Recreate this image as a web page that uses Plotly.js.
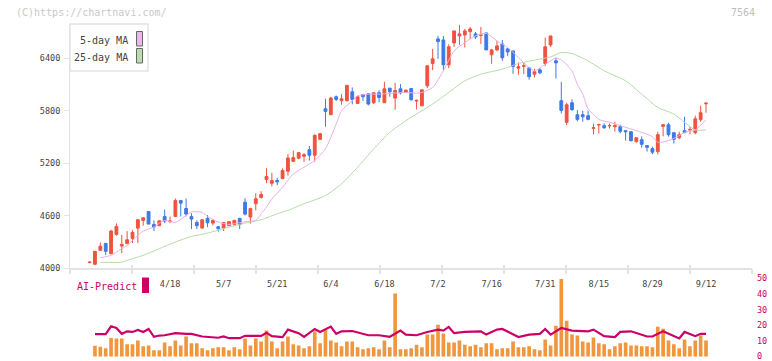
<!DOCTYPE html>
<html>
<head>
<meta charset="utf-8">
<script src="https://cdn.plot.ly/plotly-3.0.1.min.js"></script>
<style>
  html, body { margin: 0; padding: 0; background: #fff; }
  #chart { width: 772px; height: 361px; }
</style>
</head>
<body>
<div id="chart"></div>
<script>
// ---- data (trading day index 0 = 2025/3/28 ... 115 = 2025/9/12) ----
const openP = [4065,4046,4205,4285,4167,4387,4254,4281,4342,4459,4547,4649,4501,4486,4592,4535,4592,4775,4683,4592,4524,4459,4570,4516,4475,4459,4486,4501,4570,4755,4585,4737,4809,5014,4972,5002,5025,5109,5222,5257,5279,5355,5291,5473,5822,5754,5959,5914,5914,6016,5883,5982,5993,5891,6005,5891,6058,5944,6050,6008,6054,5910,5857,6084,6339,6620,6608,6324,6574,6654,6665,6703,6677,6660,6688,6438,6494,6563,6506,6483,6286,6305,6289,6217,6267,6339,6551,6369,5914,5667,5891,5754,5754,5743,5598,5636,5629,5626,5617,5617,5572,5560,5447,5469,5401,5367,5333,5621,5640,5549,5492,5572,5580,5549,5697,5879];
const highP = [4078,4194,4296,4285,4440,4513,4383,4425,4436,4562,4577,4649,4547,4543,4672,4592,4797,4775,4797,4630,4547,4562,4607,4562,4482,4524,4540,4554,4577,4800,4691,4858,4881,5143,5090,5036,5143,5306,5344,5329,5314,5397,5530,5541,5936,5959,5974,5989,6096,6065,5963,5993,5997,6005,6035,6130,6058,6118,6103,6040,6058,5925,6039,6320,6506,6654,6654,6559,6711,6779,6734,6756,6699,6756,6688,6506,6597,6608,6514,6483,6350,6346,6293,6278,6289,6635,6654,6407,6130,5891,5929,5807,5800,5800,5652,5652,5655,5655,5674,5640,5572,5560,5492,5507,5401,5390,5560,5640,5663,5549,5560,5731,5617,5743,5857,5895];
const lowP = [4058,4038,4205,4152,4160,4372,4175,4281,4289,4289,4486,4505,4425,4486,4516,4516,4585,4592,4592,4448,4448,4459,4471,4490,4418,4425,4486,4486,4448,4604,4509,4661,4797,4972,4934,4949,5018,5059,5215,5245,5215,5230,5219,5466,5617,5750,5910,5868,5906,5872,5876,5910,5860,5876,5895,5891,5959,5811,5985,6000,5914,5815,5849,6058,6263,6392,6263,6286,6529,6551,6521,6620,6620,6563,6494,6335,6480,6369,6422,6221,6210,6217,6153,6179,6217,6308,6529,6168,5769,5633,5800,5678,5674,5690,5530,5538,5591,5595,5560,5542,5458,5447,5435,5378,5333,5302,5302,5507,5504,5424,5473,5549,5530,5530,5674,5777];
const closeP = [4070,4194,4251,4194,4425,4478,4273,4326,4410,4554,4577,4505,4471,4543,4539,4540,4775,4744,4619,4562,4486,4554,4520,4547,4452,4524,4532,4547,4501,4619,4683,4794,4843,5048,5002,4987,5116,5260,5264,5321,5298,5291,5519,5538,5792,5944,5929,5936,6088,5929,5959,5959,5876,6005,5951,6050,6016,6031,6005,6035,5925,5918,6039,6312,6392,6589,6324,6529,6711,6677,6711,6734,6642,6666,6494,6494,6540,6404,6471,6305,6301,6312,6187,6244,6232,6529,6654,6346,5803,5868,5811,5701,5731,5701,5605,5642,5606,5631,5629,5564,5560,5458,5492,5416,5382,5325,5526,5640,5526,5473,5526,5549,5586,5708,5777,5886];

// volume-like bars (AI-Predict panel, right axis units); first day has no bar
const volume = [null,6.9,6.3,5.2,11.9,11.5,11.5,7.8,7.8,10.3,6.5,7.1,4.0,4.0,9.0,6.5,10.3,7.1,12.8,8.4,8.4,5.2,4.0,5.2,5.9,5.9,4.0,5.9,4.6,11.5,7.1,11.5,9.6,16.6,9.6,5.2,9.6,12.8,7.8,7.1,5.2,6.5,16.1,8.4,17.2,10.3,9.0,6.5,9.6,9.6,5.9,4.6,5.2,5.9,4.6,10.3,5.9,40.3,4.6,4.6,5.2,7.5,5.9,14.0,14.0,20.3,14.7,9.0,9.0,10.3,7.5,6.5,7.5,5.9,8.4,8.4,4.6,5.2,5.2,9.6,5.9,5.9,6.5,4.6,4.0,10.9,7.1,19.7,49.5,22.8,14.0,13.4,9.6,9.0,12.2,8.4,7.8,4.6,6.5,8.4,9.0,7.1,7.1,6.5,6.5,5.9,19.1,17.8,10.3,7.8,5.2,10.9,6.5,10.3,13.4,10.3];

// AI-Predict line (day index, value)
const aiDay = [1,3,4,5,6,7,8,9,10,11,12,13,14,16,18,19,21,22,24,25,26,28,29,32,33,34,36,37,39,40,42,43,45,46,47,49,52,54,56,58,59,61,63,65,66,67,68,70,73,74,76,77,79,80,82,84,85,86,88,90,93,94,96,98,99,101,104,105,107,108,110,111,113,114,115];
const aiVal = [14.3,14.3,19.3,18.2,14.5,16.1,15.7,17.0,15.7,17.6,12.6,13.4,13.6,14.9,14.5,14.5,12.8,12.4,12.0,12.8,11.7,11.7,13.2,13.2,15.1,13.0,12.4,17.2,14.9,12.6,17.6,15.7,19.1,14.5,16.1,16.3,13.6,13.6,12.6,16.6,14.0,13.6,15.7,17.2,16.6,18.9,14.9,15.7,16.1,14.0,17.2,17.6,14.0,12.4,14.0,14.5,17.6,14.0,18.2,16.6,16.1,17.2,13.0,12.4,15.7,16.1,12.8,12.8,16.1,14.5,11.5,15.7,13.0,14.5,14.5];

// moving averages (day index, value)
const ma5Day = [2,4,5,7,9,10,12,13,14,16,18,19,21,22,24,26,27,29,31,32,33,34,36,38,40,42,44,45,46,47,49,50,52,54,56,59,61,62,64,66,68,70,72,74,76,78,80,82,83,85,87,88,90,91,92,93,94,95,97,99,101,103,105,106,108,110,111,113,115];
const ma5Val = [4121,4148,4186,4262,4376,4425,4471,4516,4547,4524,4604,4645,4638,4592,4528,4501,4509,4532,4547,4623,4700,4790,4926,5078,5154,5230,5363,5496,5648,5800,5913,5970,5989,5989,5997,6008,6000,6008,6065,6255,6483,6578,6655,6682,6597,6521,6407,6293,6255,6331,6400,6380,6255,6100,5990,5820,5760,5700,5667,5629,5591,5553,5504,5439,5458,5515,5553,5580,5697];
const ma25Day = [2,6,7,10,13,16,19,22,26,29,32,35,37,40,44,47,50,53,56,59,61,64,67,70,73,77,80,83,86,88,90,93,96,100,103,106,109,111,113,115];
const ma25Val = [4068,4070,4091,4148,4224,4300,4364,4402,4471,4516,4554,4623,4661,4737,4831,4964,5154,5363,5553,5686,5762,5876,6008,6141,6217,6274,6338,6377,6415,6465,6452,6369,6256,6141,5989,5837,5762,5667,5580,5580];

const tickDays = [15,25,35,45,55,65,75,85,95,105,115];
const tickLabels = ['4/18','5/7','5/21','6/4','6/18','7/2','7/16','7/31','8/15','8/29','9/12'];
const priceTicks = [4000,4600,5200,5800,6400];
const aiTicks = [0,10,20,30,40,50];

// ---- build ----
const days = openP.map((_, i) => i);
const RED = '#f0523f', BLUE = '#3f79e6', PINK = '#e6b0e6', GREEN = '#b4dba6', CRIMSON = '#cc0066';
const MONO = 'DejaVu Sans Mono, Liberation Mono, monospace';

// pixel -> paper helpers (plot area x:70..752, y:24..359)
const L = 70, R = 752, T = 24, B = 359;
const px = v => (v - L) / (R - L);
const py = v => (B - v) / (B - T);

const traces = [
  {
    type: 'candlestick', x: days, open: openP, high: highP, low: lowP, close: closeP,
    xaxis: 'x', yaxis: 'y',
    increasing: { line: { color: RED, width: 1 }, fillcolor: RED },
    decreasing: { line: { color: BLUE, width: 1 }, fillcolor: BLUE },
    whiskerwidth: 0, hoverinfo: 'skip', showlegend: false
  },
  { type: 'scatter', mode: 'lines', x: ma25Day, y: ma25Val, xaxis: 'x', yaxis: 'y',
    line: { color: GREEN, width: 1, shape: 'spline', smoothing: 0.6 }, hoverinfo: 'skip', showlegend: false },
  { type: 'scatter', mode: 'lines', x: ma5Day, y: ma5Val, xaxis: 'x', yaxis: 'y',
    line: { color: PINK, width: 1, shape: 'spline', smoothing: 0.6 }, hoverinfo: 'skip', showlegend: false },
  { type: 'bar', x: days, y: volume, xaxis: 'x2', yaxis: 'y2', width: 0.68,
    marker: { color: '#f0963f', line: { width: 0 } }, hoverinfo: 'skip', showlegend: false },
  { type: 'scatter', mode: 'lines', x: aiDay, y: aiVal, xaxis: 'x2', yaxis: 'y2',
    line: { color: CRIMSON, width: 2.2 }, hoverinfo: 'skip', showlegend: false },
  { type: 'scatter', x: [], y: [], xaxis: 'x3', yaxis: 'y', showlegend: false, hoverinfo: 'skip' },
  { type: 'scatter', x: [], y: [], xaxis: 'x4', yaxis: 'y', showlegend: false, hoverinfo: 'skip' }
];

const xr = [-3.66, 123.58];
const mainBottom = py(268.3);
const subTop = py(278.3);

const layout = {
  width: 772, height: 361,
  margin: { l: L, r: 772 - R, t: T, b: 361 - B, pad: 0 },
  paper_bgcolor: '#ffffff', plot_bgcolor: '#ffffff',
  showlegend: false, hovermode: false, boxgap: 0.25,
  font: { family: MONO, size: 9, color: '#444' },
  xaxis: {
    domain: [0, 1], anchor: 'y', range: xr, rangeslider: { visible: false },
    showgrid: false, zeroline: false, showline: true, linecolor: '#e3e3e3', linewidth: 2,
    tickmode: 'array', tickvals: tickDays, ticktext: tickLabels, ticks: '',
    ticklabelstandoff: 6, tickfont: { family: MONO, size: 8.5, color: '#444' }
  },
  xaxis3: {
    overlaying: 'x', anchor: 'y', side: 'bottom', range: [0, 11],
    tickmode: 'linear', tick0: 0, dtick: 1, ticks: 'outside', ticklen: 5, tickwidth: 2,
    tickcolor: '#e3e3e3', showticklabels: false, showline: false, showgrid: false, zeroline: false
  },
  xaxis4: {
    overlaying: 'x', anchor: 'y', side: 'bottom', range: [0, 11],
    tickmode: 'linear', tick0: 0, dtick: 1, ticks: 'inside', ticklen: 3, tickwidth: 2,
    tickcolor: '#e3e3e3', showticklabels: false, showline: false, showgrid: false, zeroline: false
  },
  yaxis: {
    domain: [mainBottom, 1], anchor: 'x', range: [4000, 6790],
    showgrid: false, zeroline: false, showline: true, linecolor: '#e3e3e3', linewidth: 1,
    tickmode: 'array', tickvals: priceTicks, ticks: 'outside', ticklen: 5, tickcolor: '#e3e3e3',
    ticklabelstandoff: 2,
    tickfont: { family: MONO, size: 8.5, color: '#444' }
  },
  xaxis2: { domain: [0, 1], anchor: 'y2', matches: 'x', visible: false, range: xr },
  yaxis2: {
    domain: [0, subTop], anchor: 'x2', side: 'right', range: [-1.6, 50],
    showgrid: false, zeroline: false, showline: false, ticks: '',
    tickmode: 'array', tickvals: aiTicks, ticklabelstandoff: 4, ticklabeloverflow: 'allow',
    tickfont: { family: MONO, size: 8.5, color: CRIMSON }
  },
  shapes: [
    { type: 'rect', xref: 'paper', yref: 'paper', x0: px(70), x1: px(148), y0: py(71), y1: py(24),
      line: { color: '#e3e3e3', width: 1.5 }, fillcolor: '#ffffff', layer: 'above' },
    { type: 'rect', xref: 'paper', yref: 'paper', x0: px(136.5), x1: px(142.5), y0: py(46), y1: py(31.5),
      line: { color: '#666', width: 1 }, fillcolor: '#ecb8ec', layer: 'above' },
    { type: 'rect', xref: 'paper', yref: 'paper', x0: px(136.5), x1: px(142.5), y0: py(63), y1: py(48.5),
      line: { color: '#666', width: 1 }, fillcolor: '#bcdcb0', layer: 'above' },
    { type: 'rect', xref: 'paper', yref: 'paper', x0: px(142), x1: px(149), y0: py(293), y1: py(277.5),
      line: { width: 0 }, fillcolor: CRIMSON, layer: 'above' }
  ],
  annotations: [
    { xref: 'paper', yref: 'paper', x: px(14), y: py(12), xanchor: 'left', yanchor: 'middle',
      text: '(C)https://chartnavi.com/', showarrow: false, font: { family: MONO, size: 10, color: '#c8c8c8' } },
    { xref: 'paper', yref: 'paper', x: px(757), y: py(12), xanchor: 'right', yanchor: 'middle',
      text: '7564', showarrow: false, font: { family: MONO, size: 10, color: '#bdbdbd' } },
    { xref: 'paper', yref: 'paper', x: px(130), y: py(41), xanchor: 'right', yanchor: 'middle',
      text: '5-day MA', showarrow: false, font: { family: MONO, size: 10, color: '#444' } },
    { xref: 'paper', yref: 'paper', x: px(130), y: py(57), xanchor: 'right', yanchor: 'middle',
      text: '25-day MA', showarrow: false, font: { family: MONO, size: 10, color: '#444' } },
    { xref: 'paper', yref: 'paper', x: px(75), y: py(286), xanchor: 'left', yanchor: 'middle',
      text: 'AI-Predict', showarrow: false, font: { family: MONO, size: 10, color: CRIMSON } }
  ]
};

Plotly.newPlot('chart', traces, layout, { staticPlot: true, displayModeBar: false });
</script>
</body>
</html>
